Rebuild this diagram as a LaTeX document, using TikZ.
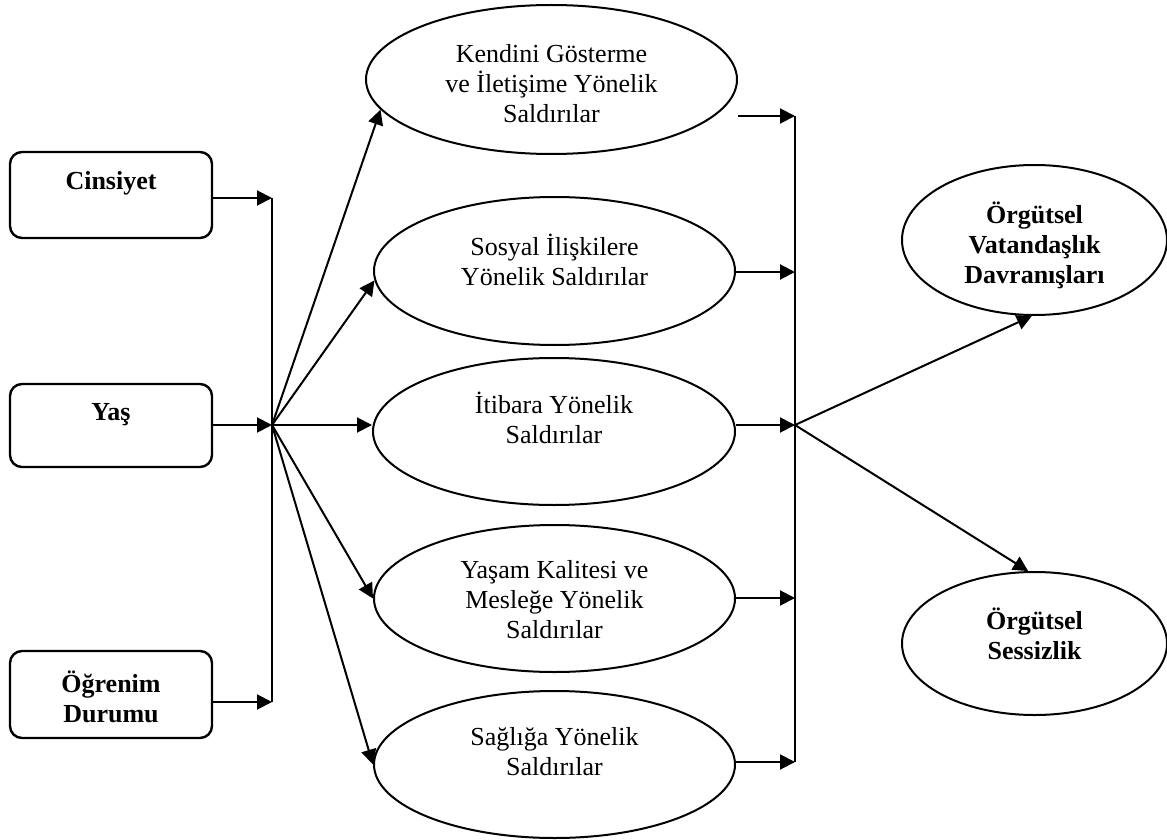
\documentclass[tikz,border=0pt]{standalone}
\usepackage{fontspec}
\setmainfont{Liberation Serif}
\usetikzlibrary{shapes.geometric,arrows.meta}
\tikzset{
  ell/.style={draw, ellipse, line width=1pt, inner sep=0pt},
  box/.style={draw, rounded corners=6pt, line width=1.2pt, minimum width=101pt, inner sep=0pt},
  lbl/.style={align=center, inner sep=0pt, font=\fontsize{13}{15}\selectfont},
  blbl/.style={lbl, font=\fontsize{13}{15}\selectfont\bfseries},
  arr/.style={-{Triangle[length=7.5pt,width=7.5pt]}, line width=1pt},
}
\begin{document}
\begin{tikzpicture}[x=0.5pt,y=-0.5pt]
\useasboundingbox (0,0) rectangle (1167,840);
% Left boxes
\node[box, minimum height=43pt] (cins) at (111,195) {};
\node[blbl] (cinsT) at (111,183) {Cinsiyet};
\node[box, minimum height=41.5pt] (yas) at (111,425.5) {};
\node[blbl] (yasT) at (111,415) {Yaş};
\node[box, minimum height=43.5pt] (ogr) at (111,694.5) {};
\node[blbl] (ogrT) at (111,697) {Öğrenim\\Durumu};
% Middle ellipses
\node[ell, minimum width=185.5pt, minimum height=74.5pt] (kend) at (551.5,79.5) {};
\node[lbl] (kendT) at (551.5,84) {Kendini Gösterme\\ve İletişime Yönelik\\Saldırılar};
\node[ell, minimum width=180.5pt, minimum height=74pt] (sos) at (554.5,271) {};
\node[lbl] (sosT) at (554.5,260) {Sosyal İlişkilere\\Yönelik Saldırılar};
\node[ell, minimum width=181pt, minimum height=73.5pt] (itib) at (554,431.5) {};
\node[lbl] (itibT) at (554,418) {İtibara Yönelik\\Saldırılar};
\node[ell, minimum width=180.5pt, minimum height=73.5pt] (yasam) at (554.5,598.5) {};
\node[lbl] (yasamT) at (554.5,600) {Yaşam Kalitesi ve\\Mesleğe Yönelik\\Saldırılar};
\node[ell, minimum width=180.5pt, minimum height=73.5pt] (sag) at (554.5,764.5) {};
\node[lbl] (sagT) at (554.5,752) {Sağlığa Yönelik\\Saldırılar};
% Right ellipses
\node[ell, minimum width=132.5pt, minimum height=75pt] (ovd) at (1034.5,240) {};
\node[blbl] (ovdT) at (1034.5,245) {Örgütsel\\Vatandaşlık\\Davranışları};
\node[ell, minimum width=132.5pt, minimum height=71.5pt] (oss) at (1034.5,643.5) {};
\node[blbl] (ossT) at (1034.5,634) {Örgütsel\\Sessizlik};
% Bus points
\coordinate (b1) at (272,198);
\coordinate (b2) at (272,425);
\coordinate (b3) at (272,702);
\coordinate (c1) at (795,116);
\coordinate (c2) at (795,272);
\coordinate (c3) at (795,425);
\coordinate (c4) at (795,598);
\coordinate (c5) at (795,762);
% Boxes to left bus
\draw[arr] (cins.east |- b1) -- (b1);
\draw[arr] (yas.east |- b2) -- (b2);
\draw[arr] (ogr.east |- b3) -- (b3);
\draw[line width=1pt] (b1) -- (b3);
% Fan to ellipses
\draw[arr] (b2) -- (kend.190);
\draw[arr] (b2) -- (sos.183);
\draw[arr] (b2) -- (b2 -| itib.west);
\draw[arr] (b2) -- (yasam.west);
\draw[arr] (b2) -- (sag.west);
% Ellipses to right bus
\draw[arr] (kend.east |- c1) -- (c1);
\draw[arr] (sos.east |- c2) -- (c2);
\draw[arr] (itib.east |- c3) -- (c3);
\draw[arr] (yasam.east |- c4) -- (c4);
\draw[arr] (sag.east |- c5) -- (c5);
\draw[line width=1pt] (c1) -- (c5);
% Outcomes
\draw[arr] (c3) -- (ovd.268);
\draw[arr] (c3) -- (oss.95);
\end{tikzpicture}
\end{document}
